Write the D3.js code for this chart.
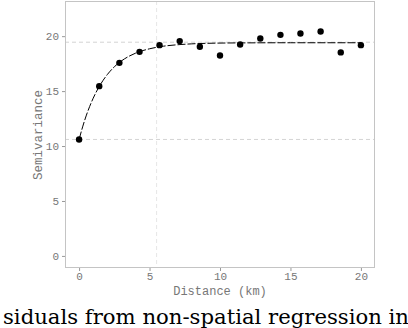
<!DOCTYPE html>
<html>
<head>
<meta charset="utf-8">
<script src="https://cdn.jsdelivr.net/npm/d3@7"></script>
<style>
  body { margin: 0; background: #fff; }
  svg { display: block; }
</style>
</head>
<body>
<svg></svg>
<script>
const width = 408;
const height = 328;

// empirical semivariogram
const distance = [0, 1.43, 2.86, 4.29, 5.71, 7.14, 8.57, 10, 11.43, 12.86, 14.29, 15.71, 17.14, 18.57, 20];
const semivariance = [10.6, 15.45, 17.57, 18.57, 19.18, 19.55, 19.03, 18.24, 19.24, 19.79, 20.12, 20.24, 20.42, 18.52, 19.18];

// fitted model line
const fitDistance = [0, 0.25, 0.5, 0.75, 1, 1.5, 2, 2.5, 3, 4, 5, 6, 7, 8, 10, 12, 15, 20];
const fitValue = [10.6, 11.74, 12.74, 13.6, 14.35, 15.57, 16.5, 17.21, 17.74, 18.45, 18.85, 19.09, 19.22, 19.3, 19.37, 19.39, 19.4, 19.4];

// reference lines: sill, nugget, range
const sill = 19.45;
const nugget = 10.6;
const rangeKm = 5.5;

const xTicks = [0, 5, 10, 15, 20];
const yTicks = [0, 5, 10, 15, 20];

const panel = { left: 65, right: 375, top: 1, bottom: 268 };
const monoFont = "'Liberation Mono', 'DejaVu Sans Mono', monospace";

var xScale = d3.scaleLinear().domain([-1, 21]).range([panel.left, panel.right]);
var yScale = d3.scaleLinear().domain([-1.1, 23.2]).range([panel.bottom, panel.top]);

const svg = d3.select("svg").attr("width", width).attr("height", height);

svg.append("rect")
  .attr("width", width).attr("height", height)
  .attr("fill", "#fff");

// reference dashed lines
const refColor = "#d4d4d4";
[sill, nugget].forEach(v => {
  svg.append("line")
    .attr("x1", panel.left).attr("x2", panel.right)
    .attr("y1", yScale(v)).attr("y2", yScale(v))
    .attr("stroke", refColor)
    .attr("stroke-dasharray", "4,3");
});
svg.append("line")
  .attr("x1", xScale(rangeKm)).attr("x2", xScale(rangeKm))
  .attr("y1", panel.top).attr("y2", panel.bottom)
  .attr("stroke", "#e6e6e6")
  .attr("stroke-dasharray", "4,3");

// panel border
svg.append("rect")
  .attr("x", panel.left + 0.5).attr("y", panel.top + 0.5)
  .attr("width", panel.right - panel.left - 1)
  .attr("height", panel.bottom - panel.top - 1)
  .attr("fill", "none")
  .attr("stroke", "#c4c4c4");

// fitted curve
var line = d3.line()
  .x((d, i) => xScale(fitDistance[i]))
  .y(d => yScale(d))
  .curve(d3.curveMonotoneX);

svg.append("path")
  .attr("d", line(fitValue))
  .attr("fill", "none")
  .attr("stroke", "#000")
  .attr("stroke-width", 1)
  .attr("stroke-dasharray", "8,2");

// points
svg.selectAll("circle")
  .data(distance)
  .enter()
  .append("circle")
  .attr("cx", d => xScale(d))
  .attr("cy", (d, i) => yScale(semivariance[i]))
  .attr("r", 3.2)
  .attr("fill", "#000");

// axes
var xAxis = d3.axisBottom(xScale).tickValues(xTicks).tickSize(3).tickSizeOuter(0).tickPadding(1);
var yAxis = d3.axisLeft(yScale).tickValues(yTicks).tickSize(3).tickSizeOuter(0).tickPadding(3);

const gx = svg.append("g")
  .attr("transform", `translate(0, ${panel.bottom})`)
  .call(xAxis);
const gy = svg.append("g")
  .attr("transform", `translate(${panel.left}, 0)`)
  .call(yAxis);

[gx, gy].forEach(g => {
  g.select(".domain").remove();
  g.selectAll(".tick line").attr("stroke", "#999");
  g.selectAll(".tick text")
    .attr("fill", "#777")
    .style("font-family", monoFont)
    .style("font-size", "11px");
});

svg.append("text")
  .attr("x", 220)
  .attr("y", 295)
  .style("text-anchor", "middle")
  .style("font-family", monoFont)
  .style("font-size", "12px")
  .attr("fill", "#777")
  .text("Distance (km)");

svg.append("text")
  .attr("x", -135)
  .attr("y", 42)
  .attr("transform", "rotate(-90)")
  .style("text-anchor", "middle")
  .style("font-family", monoFont)
  .style("font-size", "12.5px")
  .attr("fill", "#777")
  .text("Semivariance");

// caption cut by the crop
svg.append("text")
  .attr("x", 3)
  .attr("y", 324)
  .attr("textLength", 406)
  .attr("lengthAdjust", "spacingAndGlyphs")
  .style("font-family", "'DejaVu Serif', 'Liberation Serif', serif")
  .style("font-size", "21px")
  .attr("fill", "#000")
  .text("siduals from non-spatial regression in");
</script>
</body>
</html>
